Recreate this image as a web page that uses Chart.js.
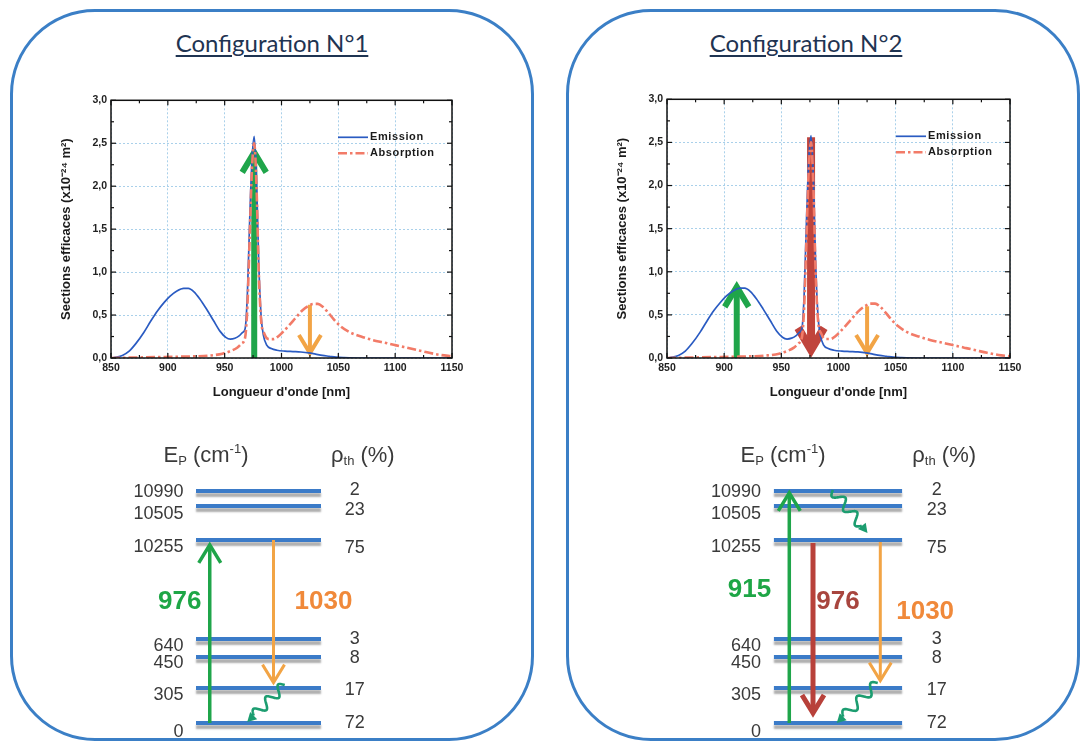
<!DOCTYPE html>
<html>
<head>
<meta charset="utf-8">
<script src="https://cdn.jsdelivr.net/npm/chart.js@4.4.0/dist/chart.umd.min.js"></script>
<style>
  body { margin: 0; width: 1081px; height: 744px; background: #fff; position: relative; overflow: hidden; }
  .panel { position: absolute; top: 9px; height: 732px; border: 3px solid #3b7fc6; border-radius: 85px; box-sizing: border-box; }
  .title { position: absolute; top: 28px; font-family: Lato, sans-serif; font-size: 24px; color: #1f3452;
           text-decoration: underline; text-decoration-thickness: 1.5px; text-underline-offset: 3px;
           transform: translateX(-50%); white-space: nowrap; }
  canvas { position: absolute; }
</style>
</head>
<body>
<div class="panel" style="left:10px;width:524px"></div>
<div class="panel" style="left:566px;width:514px"></div>
<div class="title" style="left:272px">Configuration N°1</div>
<div class="title" style="left:806px">Configuration N°2</div>

<canvas id="spec1" width="420" height="320" style="left:50px;top:90px"></canvas>
<canvas id="spec2" width="422" height="321" style="left:606px;top:89px"></canvas>
<canvas id="levels1" width="275" height="310" style="left:121px;top:433px"></canvas>
<canvas id="levels2" width="282" height="310" style="left:697px;top:433px"></canvas>

<script>
// ---- cross sections (x10^-24 m²) ----
const emissionWl = [850, 855, 860, 866, 872, 879, 885, 891, 897, 902, 908, 914, 918, 923, 928, 934, 940, 946, 951,
  955, 959, 963, 966, 968, 970, 972, 974, 976, 978, 980, 982, 984, 987, 991, 996, 1003, 1010, 1017, 1024, 1030,
  1036, 1042, 1048, 1055, 1070, 1100, 1150];
const emissionVal = [0.0, 0.01, 0.03, 0.08, 0.17, 0.30, 0.43, 0.55, 0.65, 0.72, 0.78, 0.81, 0.81, 0.77, 0.69, 0.57,
  0.44, 0.31, 0.24, 0.22, 0.23, 0.26, 0.30, 0.34, 0.75, 1.6, 2.3, 2.58, 2.1, 1.1, 0.5, 0.27, 0.15, 0.11, 0.09, 0.08,
  0.075, 0.07, 0.06, 0.045, 0.03, 0.02, 0.01, 0.005, 0, 0, 0];

const absorptionWl = [850, 870, 890, 910, 925, 938, 948, 955, 961, 965, 968, 970, 972, 974, 976, 978, 980, 982, 985,
  989, 993, 997, 1001, 1006, 1012, 1018, 1023, 1028, 1032, 1036, 1041, 1046, 1052, 1060, 1070, 1080, 1090, 1100,
  1110, 1120, 1130, 1140, 1150];
const absorptionVal = [0.0, 0.005, 0.01, 0.015, 0.02, 0.03, 0.05, 0.08, 0.12, 0.17, 0.24, 0.6, 1.4, 2.2, 2.5, 2.0,
  1.0, 0.45, 0.28, 0.22, 0.22, 0.25, 0.30, 0.37, 0.46, 0.55, 0.60, 0.63, 0.63, 0.60, 0.53, 0.45, 0.37, 0.30, 0.25,
  0.21, 0.18, 0.15, 0.12, 0.09, 0.06, 0.035, 0.02];

const xTickValues = [850, 900, 950, 1000, 1050, 1100, 1150];
const yTickValues = [0, 0.5, 1.0, 1.5, 2.0, 2.5, 3.0];
const seriesNames = ["Emission", "Absorption"];

// arrows marked on the spectra: wavelength (nm), start and tip (cross section)
const marks1Wl = [976, 1025];
const marks1From = [0, 0.62];
const marks1To = [2.45, 0.02];
const marks2Wl = [911, 976, 1025];
const marks2From = [0, 2.56, 0.6];
const marks2To = [0.88, 0.02, 0.02];

// ---- Stark levels: energy (cm-1) and thermal population (%) ----
const levelEnergy = [0, 305, 450, 640, 10255, 10505, 10990];
const levelPop = [72, 17, 8, 3, 75, 23, 2];

// transitions (label in nm, from level, to level)
const trans1Label = ["976", "1030"];
const trans1From = [0, 10255];
const trans1To = [10255, 305];
const relax1From = [305];
const relax1To = [0];

const trans2Label = ["915", "976", "1030"];
const trans2From = [0, 10255, 10255];
const trans2To = [10990, 0, 305];
const relax2From = [10990, 305];
const relax2To = [10255, 0];

// ---- layout of the level scheme (diagram units, not data) ----
const levelSlot = [0, 35, 66, 84, 183, 217, 232];
const energyLabelDy = [-9, -7, -6, -7, -7, -8, -1];
const popLabelDy = [0, -2, -1, 0, -8, -4, 1];

const GREEN = "#1fa54a";
const ORANGE = "#f2a445";
const RED = "#b8413a";
const WAVY = "#1c9d70";
const DIAG_FONT = '"Liberation Sans", Arial, sans-serif';

/* ----------------------------
    Helpers
---------------------------- */
function drawArrow(ctx, x, y0, y1, color, lw, headW, headL) {
  const dir = y1 > y0 ? 1 : -1; // +1 = pointing down
  const tip = y1 - dir * lw * 0.8;
  ctx.save();
  ctx.strokeStyle = color;
  ctx.lineWidth = lw;
  ctx.lineCap = "butt";
  ctx.lineJoin = "miter";
  ctx.beginPath();
  ctx.moveTo(x, y0);
  ctx.lineTo(x, tip - dir * lw * 0.3);
  ctx.stroke();
  ctx.beginPath();
  ctx.moveTo(x - headW / 2, tip - dir * headL);
  ctx.lineTo(x, tip);
  ctx.lineTo(x + headW / 2, tip - dir * headL);
  ctx.stroke();
  ctx.restore();
}

function drawWavy(ctx, x0, y0, x1, y1, color) {
  const dx = x1 - x0, dy = y1 - y0, len = Math.hypot(dx, dy);
  const ux = dx / len, uy = dy / len, nx = -uy, ny = ux;
  const headL = 9, headW = 10, amp = 5, waves = 2.5;
  const body = len - headL;
  ctx.save();
  ctx.strokeStyle = color;
  ctx.fillStyle = color;
  ctx.lineWidth = 2.6;
  ctx.beginPath();
  for (let i = 0; i <= 80; i++) {
    const t = i / 80;
    const o = amp * Math.sin(t * waves * 2 * Math.PI);
    const px = x0 + ux * t * body + nx * o;
    const py = y0 + uy * t * body + ny * o;
    if (i === 0) ctx.moveTo(px, py); else ctx.lineTo(px, py);
  }
  ctx.stroke();
  const bx = x0 + ux * body, by = y0 + uy * body;
  ctx.beginPath();
  ctx.moveTo(x1, y1);
  ctx.lineTo(bx + nx * headW / 2, by + ny * headW / 2);
  ctx.lineTo(bx - nx * headW / 2, by - ny * headW / 2);
  ctx.closePath();
  ctx.fill();
  ctx.restore();
}

function drawRich(ctx, parts, x, y) {
  let cx = x;
  for (const [t, size, dy] of parts) {
    ctx.font = size + "px " + DIAG_FONT;
    ctx.fillText(t, cx, y + dy);
    cx += ctx.measureText(t).width;
  }
}

/* ----------------------------
    Spectrum charts
---------------------------- */
function spectrumDecor(markWl, markFrom, markTo, markStyle) {
  return {
    id: "spectrumDecor",
    // arrows sit under the curves
    beforeDatasetsDraw(chart) {
      const { ctx, scales: { x, y } } = chart;
      markWl.forEach((wl, i) => {
        const s = markStyle[i];
        drawArrow(ctx, x.getPixelForValue(wl), y.getPixelForValue(markFrom[i]), y.getPixelForValue(markTo[i]),
          s.color, s.lw, s.headW, s.headL);
      });
    },
    afterDatasetsDraw(chart) {
      const { ctx, chartArea: a, scales: { x, y } } = chart;
      ctx.save();
      ctx.strokeStyle = "#111";
      ctx.lineWidth = 1.5;
      ctx.strokeRect(a.left, a.top, a.right - a.left, a.bottom - a.top);
      // inward ticks on the four sides, minor ones halfway
      ctx.lineWidth = 1.2;
      const tick = (x0, y0, x1, y1) => { ctx.beginPath(); ctx.moveTo(x0, y0); ctx.lineTo(x1, y1); ctx.stroke(); };
      xTickValues.forEach((v, i) => {
        const vals = [[v, 5]];
        if (i < xTickValues.length - 1) vals.push([(v + xTickValues[i + 1]) / 2, 3]);
        vals.forEach(([w, l]) => {
          const px = x.getPixelForValue(w);
          tick(px, a.bottom, px, a.bottom - l);
          tick(px, a.top, px, a.top + l);
        });
      });
      yTickValues.forEach((v, i) => {
        const vals = [[v, 5]];
        if (i < yTickValues.length - 1) vals.push([(v + yTickValues[i + 1]) / 2, 3]);
        vals.forEach(([w, l]) => {
          const py = y.getPixelForValue(w);
          tick(a.left, py, a.left + l, py);
          tick(a.right, py, a.right - l, py);
        });
      });
      // legend inside the plot, top right
      const lx = a.right - 114;
      const ly = a.top + 37;
      chart.data.datasets.forEach((ds, i) => {
        const yy = ly + i * 16;
        ctx.strokeStyle = ds.borderColor;
        ctx.lineWidth = ds.borderWidth;
        ctx.setLineDash(ds.borderDash || []);
        tick(lx, yy, lx + 30, yy);
        ctx.setLineDash([]);
        ctx.fillStyle = "#1a1a1a";
        ctx.font = 'bold 11px "Liberation Sans", Arial, sans-serif';
        ctx.letterSpacing = "0.6px";
        ctx.textBaseline = "middle";
        ctx.fillText(ds.label, lx + 32, yy);
      });
      ctx.restore();
    },
  };
}

function makeSpectrum(id, markWl, markFrom, markTo, markStyle) {
  const tickFont = { family: "Liberation Sans", size: 10.5, weight: "bold" };
  const config = {
    type: "line",
    data: {
      datasets: [
        {
          label: seriesNames[0],
          data: emissionWl.map((w, i) => ({ x: w, y: emissionVal[i] })),
          borderColor: "#2a5bc2",
          borderWidth: 1.7,
          pointRadius: 0,
          cubicInterpolationMode: "monotone",
          order: 2,
        },
        {
          label: seriesNames[1],
          data: absorptionWl.map((w, i) => ({ x: w, y: absorptionVal[i] })),
          borderColor: "#f27b68",
          borderWidth: 2.6,
          borderDash: [9, 3, 2.5, 3],
          pointRadius: 0,
          cubicInterpolationMode: "monotone",
          order: 1,
        },
      ],
    },
    options: {
      responsive: false,
      animation: false,
      events: [],
      layout: { padding: { top: 10, right: 18, left: 0, bottom: 0 } },
      plugins: { legend: { display: false }, tooltip: { enabled: false } },
      scales: {
        x: {
          type: "linear",
          min: 850,
          max: 1150,
          afterBuildTicks: (s) => { s.ticks = xTickValues.map((v) => ({ value: v })); },
          afterFit: (s) => { s.height = 52; },
          grid: { color: "#a9d0ea", lineWidth: 1, drawTicks: false },
          border: { display: false, dash: [2, 2] },
          ticks: { font: tickFont, color: "#222", padding: 4, maxRotation: 0, autoSkip: false,
                   callback: (v) => String(v) },
          title: {
            display: true,
            text: "Longueur d'onde [nm]",
            color: "#1a1a1a",
            font: { family: "Liberation Sans", size: 13, weight: "bold" },
            padding: { top: 0, bottom: 10 },
          },
        },
        y: {
          type: "linear",
          min: 0,
          max: 3,
          afterBuildTicks: (s) => { s.ticks = yTickValues.map((v) => ({ value: v })); },
          afterFit: (s) => { s.width = 61; },
          grid: { color: "#a9d0ea", lineWidth: 1, drawTicks: false },
          border: { display: false, dash: [2, 2] },
          ticks: {
            font: tickFont,
            color: "#222",
            padding: 4,
            callback: (v) => v.toFixed(1).replace(".", ","),
          },
          title: {
            display: true,
            text: "Sections efficaces (x10⁻²⁴ m²)",
            color: "#1a1a1a",
            font: { family: "Liberation Sans", size: 13, weight: "bold" },
            padding: { top: 9, bottom: 0 },
          },
        },
      },
    },
    plugins: [spectrumDecor(markWl, markFrom, markTo, markStyle)],
  };
  new Chart(document.getElementById(id), config);
}

/* ----------------------------
    Level schemes
---------------------------- */
const levelShadow = {
  id: "levelShadow",
  beforeDatasetDraw(chart) {
    const c = chart.ctx;
    c.save();
    c.shadowColor = "rgba(0,0,0,0.32)";
    c.shadowOffsetY = 4;
    c.shadowBlur = 2;
  },
  afterDatasetDraw(chart) {
    chart.ctx.restore();
  },
};

function schemeDecor(s) {
  const slotOf = (e) => levelSlot[levelEnergy.indexOf(e)];
  return {
    id: "schemeDecor",
    afterDatasetsDraw(chart) {
      const { ctx, scales: { x, y } } = chart;
      const px = (v) => x.getPixelForValue(v);
      const py = (v) => y.getPixelForValue(v);
      ctx.save();
      ctx.fillStyle = "#3a3a3a";
      ctx.textBaseline = "alphabetic";
      ctx.textAlign = "left";
      drawRich(ctx, [["E", 22, 0], ["P", 13, 3], [" (cm", 22, 0], ["-1", 13, -9], [")", 22, 0]], px(-26), py(261));
      drawRich(ctx, [["ρ", 22, 0], ["th", 13, 3], [" (%)", 22, 0]], px(108), py(261));

      ctx.font = "18px " + DIAG_FONT;
      ctx.textBaseline = "middle";
      levelEnergy.forEach((e, i) => {
        ctx.textAlign = "right";
        ctx.fillText(String(e), px(-10), py(levelSlot[i] + energyLabelDy[i]));
        ctx.textAlign = "center";
        ctx.fillText(String(levelPop[i]), px(127), py(levelSlot[i] + popLabelDy[i]));
      });

      s.from.forEach((f, i) => {
        const st = s.style[i];
        drawArrow(ctx, px(s.x[i]), py(slotOf(f) + s.startGap[i]), py(slotOf(s.to[i]) + s.tipGap[i]),
          st.color, st.lw, 22, 18);
        ctx.fillStyle = st.text;
        ctx.font = "bold 26px " + DIAG_FONT;
        ctx.textAlign = "center";
        ctx.fillText(s.label[i], px(s.labelX[i]), py(s.labelY[i]));
      });
      s.relaxFrom.forEach((f, i) => {
        drawWavy(ctx, px(s.relaxX0[i]), py(slotOf(f) + s.relaxGap0[i]),
          px(s.relaxX1[i]), py(slotOf(s.relaxTo[i]) + s.relaxGap1[i]), WAVY);
      });
      ctx.restore();
    },
  };
}

function makeScheme(id, s) {
  const datasets = levelEnergy.map((e, i) => ({
    data: [{ x: 0, y: levelSlot[i] }, { x: 100, y: levelSlot[i] }],
    borderColor: "#3b7bc8",
    borderWidth: 4,
    pointRadius: 0,
  }));
  new Chart(document.getElementById(id), {
    type: "line",
    data: { datasets },
    options: {
      responsive: false,
      animation: false,
      events: [],
      layout: { padding: 0 },
      plugins: { legend: { display: false }, tooltip: { enabled: false } },
      scales: {
        x: { type: "linear", min: -60, max: 160, display: false },
        y: { type: "linear", min: -20, max: 290, display: false },
      },
    },
    plugins: [levelShadow, schemeDecor(s)],
  });
}

const pumpStyle = { color: GREEN, lw: 3.5, text: "#1ea646" };
const laserStyle = { color: ORANGE, lw: 3, text: "#f0893a" };
const redStyle = { color: RED, lw: 5, text: "#a8453e" };

makeSpectrum("spec1", marks1Wl, marks1From, marks1To, [
  { color: GREEN, lw: 6, headW: 24, headL: 20 },
  { color: ORANGE, lw: 4, headW: 22, headL: 18 },
]);
makeSpectrum("spec2", marks2Wl, marks2From, marks2To, [
  { color: GREEN, lw: 6, headW: 24, headL: 20 },
  { color: "#c0443c", lw: 8, headW: 26, headL: 22 },
  { color: ORANGE, lw: 4, headW: 22, headL: 18 },
]);

makeScheme("levels1", {
  label: trans1Label, from: trans1From, to: trans1To,
  x: [11, 62], startGap: [0, 0], tipGap: [-2, 3],
  labelX: [-13, 102], labelY: [121, 121],
  style: [pumpStyle, laserStyle],
  relaxFrom: relax1From, relaxTo: relax1To,
  relaxX0: [71], relaxX1: [41], relaxGap0: [3], relaxGap1: [1],
});
makeScheme("levels2", {
  label: trans2Label, from: trans2From, to: trans2To,
  x: [12, 30.5, 83], startGap: [0, -3, -2], tipGap: [1, 6, 5],
  labelX: [-19, 50, 118], labelY: [133, 121, 111],
  style: [pumpStyle, redStyle, laserStyle],
  relaxFrom: relax2From, relaxTo: relax2To,
  relaxX0: [46, 81], relaxX1: [73, 49], relaxGap0: [1, 5], relaxGap1: [7, 0],
});
</script>
</body>
</html>
